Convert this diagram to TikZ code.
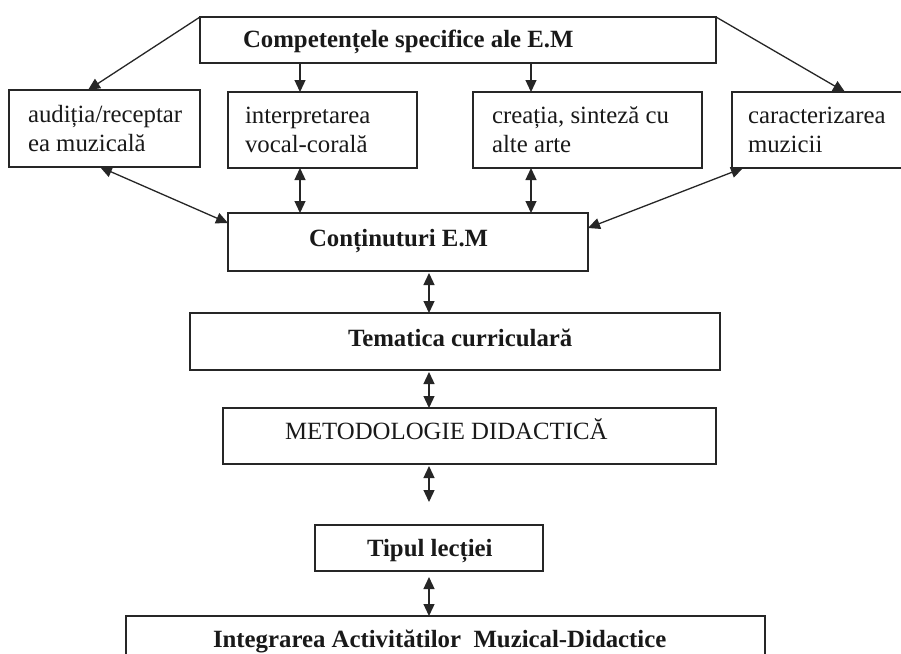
\documentclass[tikz,border=0pt]{standalone}
\usepackage{fontspec}
\setmainfont{Liberation Serif}
\usetikzlibrary{arrows.meta}
\begin{document}
\begin{tikzpicture}[x=1pt,y=-1pt,
  box/.style={draw=black!85, line width=1.3pt, rectangle, inner sep=0pt, outer sep=0pt, anchor=north west},
  txt/.style={inner sep=0pt, outer sep=0pt, anchor=base west, text=black!90, font=\fontsize{24.8}{29}\selectfont},
  btxt/.style={txt, font=\fontsize{24.8}{29}\selectfont\bfseries},
  tip/.style={Triangle[length=12pt 0 0,width=11pt 0 0]},
  arr/.style={draw=black!85, line width=1.3pt, -{Triangle[length=12pt 0 0,width=11pt 0 0]}},
  darr/.style={draw=black!85, line width=1.3pt, {Triangle[length=12pt 0 0,width=11pt 0 0]}-{Triangle[length=12pt 0 0,width=11pt 0 0]}}
]
\useasboundingbox (0,0) rectangle (901,653);
\clip (0,0) rectangle (901,653);
\fill[white] (0,0) rectangle (901,653);

% boxes
\node[box, minimum width=516pt, minimum height=46pt] (top) at (200,17) {};
\node[box, minimum width=191pt, minimum height=77pt] (b1) at (9,90) {};
\node[box, minimum width=189pt, minimum height=76pt] (b2) at (228,92) {};
\node[box, minimum width=229pt, minimum height=76pt] (b3) at (473,92) {};
\node[box, minimum width=175pt, minimum height=76pt] (b4) at (732,92) {};
\node[box, minimum width=360pt, minimum height=58pt] (cont) at (228,213) {};
\node[box, minimum width=530pt, minimum height=57pt] (tem) at (190,313) {};
\node[box, minimum width=493pt, minimum height=56pt] (met) at (223,408) {};
\node[box, minimum width=228pt, minimum height=46pt] (tipb) at (315,525) {};
\node[box, minimum width=639pt, minimum height=64pt] (integ) at (126,616) {};

% texts
\node[btxt] (ttop) at (243,47) {Competențele specifice ale E.M};
\node[txt] (t1a) at (28,122) {audiția/receptar};
\node[txt] (t1b) at (28,151) {ea muzicală};
\node[txt] (t2a) at (245,123) {interpretarea};
\node[txt] (t2b) at (245,152) {vocal-corală};
\node[txt] (t3a) at (492,123) {creația, sinteză cu};
\node[txt] (t3b) at (492,152) {alte arte};
\node[txt] (t4a) at (748,123) {caracterizarea};
\node[txt] (t4b) at (748,152) {muzicii};
\node[btxt] (tcont) at (309,246) {Conținuturi E.M};
\node[btxt] (ttem) at (348,346) {Tematica curriculară};
\node[txt] (tmet) at (285,439) {METODOLOGIE DIDACTICĂ};
\node[btxt] (ttip) at (367,556) {Tipul lecției};
\node[btxt] (tint) at (213,647) {Integrarea Activitătilor\ \ Muzical-Didactice};

% helper coordinates
\coordinate (x88) at (88,0);
\coordinate (x100) at (100,0);
\coordinate (x300) at (300,0);
\coordinate (x531) at (531,0);
\coordinate (x845) at (845,0);
\coordinate (x743) at (743,0);
\coordinate (xa) at (429,0);
\coordinate (y223) at (0,223);
\coordinate (y228) at (0,228);
\coordinate (metend) at (429,502);

% connectors
\draw[arr] (top.north west) -- (b1.north -| x88);
\draw[arr] (top.south -| x300) -- (b2.north -| x300);
\draw[arr] (top.south -| x531) -- (b3.north -| x531);
\draw[arr] (top.north east) -- (b4.north -| x845);

\draw[darr] (b1.south -| x100) -- (cont.west |- y223);
\draw[darr] (b2.south -| x300) -- (cont.north -| x300);
\draw[darr] (b3.south -| x531) -- (cont.north -| x531);
\draw[darr] (b4.south -| x743) -- (cont.east |- y228);

\draw[darr, shorten <=2pt] (cont.south -| xa) -- (tem.north -| xa);
\draw[darr, shorten <=2pt] (tem.south -| xa) -- (met.north -| xa);
\draw[darr, shorten <=2pt] (met.south -| xa) -- (metend);
\draw[darr, shorten <=6pt] (tipb.south -| xa) -- (integ.north -| xa);
\end{tikzpicture}
\end{document}
